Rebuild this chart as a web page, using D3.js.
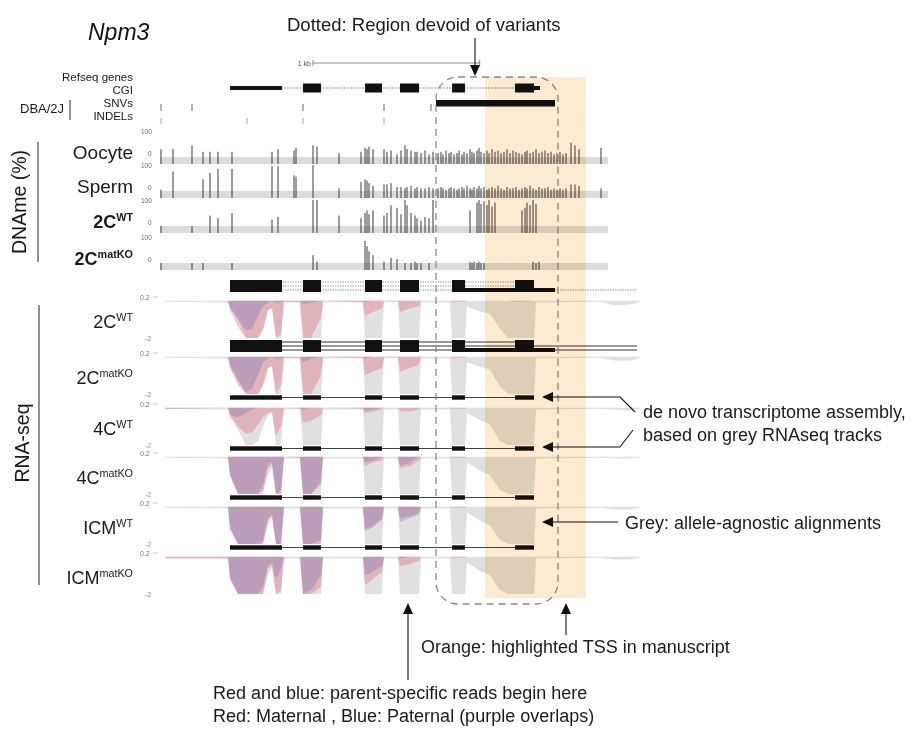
<!DOCTYPE html>
<html>
<head>
<meta charset="utf-8">
<script src="https://cdn.jsdelivr.net/npm/d3@7"></script>
<style>
  body { margin: 0; background: #fff; }
  svg { font-family: "Liberation Sans", Arial, Helvetica, sans-serif; }
</style>
</head>
<body>
<svg id="chart" width="914" height="730"></svg>
<script>
// genomic positions are bp from the left edge of the browser window
const regionBp = [0, 2880]
const bandEndBp = 2688

// gene annotation
const refseqExons = [[420, 732], [858, 966], [1230, 1332], [1440, 1554], [1752, 1830], [2130, 2280]]
const refseqCds = [732, 2244]
const cgi = [1656, 2370]
const snvPos = [6, 192, 858, 1344, 1626]
const indelPos = [6, 522, 858, 1344]
const noVariantRegion = [1656, 2388]
const tssRegion = [1950, 2556]
const scaleBar = [918, 1918]

// de novo assembled transcripts
const assemblyExons = [[420, 732], [858, 966], [1230, 1332], [1440, 1554], [1752, 1830], [2130, 2244]]
const assemblyLongExons = [[420, 732], [858, 966], [1230, 1332], [1440, 1554], [1752, 2370]]
const assemblyLongEnd = 2862

// DNA methylation (% per CpG, null = no coverage)
const dnameLabels = ["Oocyte", "Sperm", "2C", "2C"]
const dnameSups = ["", "", "WT", "matKO"]
const cpgPos = [6, 78, 192, 258, 300, 348, 432, 672, 708, 804, 816, 918, 942, 1074, 1206, 1230, 1242, 1254, 1278, 1344,
  1362, 1386, 1422, 1446, 1470, 1482, 1506, 1530, 1542, 1566, 1590, 1614, 1638,
  1668, 1686, 1698, 1716, 1734, 1746, 1764, 1782, 1794, 1812, 1824, 1842, 1860, 1872, 1884, 1902, 1914, 1926, 1944, 1962,
  1974, 1992, 2010, 2028, 2046, 2064, 2082, 2100, 2118, 2136, 2154, 2172, 2190, 2202, 2220, 2238, 2256, 2274, 2292, 2310,
  2328, 2346, 2364, 2382, 2400, 2418, 2436,
  2466, 2490, 2514, 2646]
const methOocyte = [30, 30, 45, 20, 20, 20, 20, 20, 30, 25, 35, 45, 40, 15, 20, 35, 30, 40, 30, 30, 20, 25, 10, 25, 45, 30, 25, 20, 20, 15, 25, 10, 20,
  15, 20, 10, 25, 15, 20, 10, 15, 25, 10, 20, 15, 30, 20, 15, 25, 35, 20, 15, 25, 15, 30, 20, 25, 15, 20, 30, 15, 25, 20,
  15, 10, 20, 25, 15, 20, 30, 15, 20, 25, 15, 20, 10, 15, 20, 10, 15,
  55, 45, 30, 35]
const methSperm = [5, 75, null, 45, 70, 85, 85, 95, 95, 60, 55, 100, null, 10, 35, 45, 40, 30, 20, 25, 25, 30, 15, 15, 10, 15, 20, 10, 15, 10, 10, 15, 10,
  10, 15, 10, 5, 10, 15, 10, 5, 10, 15, 10, 20, 10, 5, 15, 10, 20, 10, 15, 5, 10, 15, 10, 20, 10, 5, 15, 10, 10, 15,
  5, 10, 15, 10, 20, 10, 5, 15, 10, 10, 15, 5, 10, 5, 10, 5, 10,
  25, 25, 20, 10]
const meth2CWT = [0, null, 0, null, 40, 30, 50, 25, 35, null, null, 100, 100, 40, 30, 50, 60, 45, 60, 40, 50, 80, 70, 45, 100, 80, 50, 40, 30, 20, 35, 30, 100,
  null, null, null, null, null, null, null, null, null, null, null, null, 60, null, null, 90, 100, 85, 95, 80, 100, 75, 90,
  null, null, null, null, null, null, null, null, 60, 70, 90, 80, 100, 85, null, null, null, null, null, null, null, null, null, null,
  null, null, null, null]
const meth2CmatKO = [0, null, 0, 0, null, null, 0, null, null, null, null, 30, 5, null, null, 85, 65, 45, 30, 5, null, 20, 15, null, 0, null, 0, 5, 0, 0, null, 0, null,
  null, null, null, null, null, null, null, null, null, null, null, null, 5, 0, 5, 0, 5, 0, 0,
  null, null, null, null, null, null, null, null, null, null, null, null, null, null, null, null, 5, 0, 5,
  null, null, null, null, null, null, null, null, null,
  null, null, null, null]

// RNA-seq coverage (log scale, minus strand shown downward)
const rnaLabels = ["2C", "2C", "4C", "4C", "ICM", "ICM"]
const rnaSups = ["WT", "matKO", "WT", "matKO", "WT", "matKO"]
const rnaPos = [30, 408, 420, 468, 516, 552, 588, 618, 648, 672, 696, 726, 744,
  840, 858, 906, 966, 978,
  1218, 1230, 1278, 1332, 1344,
  1428, 1440, 1500, 1554, 1566,
  1740, 1752, 1830, 1842,
  1908, 1980, 2040, 2088, 2124, 2184, 2244, 2256,
  2640, 2730, 2820, 2880]

const grey2CWT = [-0.05, -0.1, -0.3, -1.0, -2.2, -2.2, -2.2, -1.5, -0.5, -0.4, -2.2, -2.2, -0.1,
  -0.05, -2.2, -2.2, -2.2, -0.1, -0.05, -2.2, -2.2, -2.2, -0.1, -0.05, -2.2, -2.2, -2.2, -0.1,
  -0.1, -2.2, -2.2, -0.3, -0.55, -0.7, -1.5, -2.2, -2.2, -2.2, -2.2, -0.1, -0.05, -0.25, -0.2, -0.05]
const red2CWT = [0, 0, -0.5, -1.4, -2.2, -2.2, -2.2, -1.6, -0.5, -0.4, -2.2, -1.8, -0.05,
  -0.1, -2.2, -2.2, -0.9, 0, -0.1, -0.8, -0.6, -0.4, 0, -0.05, -0.6, -0.4, -0.3, 0,
  0, -0.05, -0.05, 0, 0, 0, 0, 0, -0.05, -0.05, 0, 0, 0, 0, 0, 0]
const blue2CWT = [0, 0, -0.4, -1.0, -1.6, -1.5, -0.8, -0.3, -0.1, 0, -0.1, -0.1, 0,
  0, -0.2, -0.1, 0, 0, 0, -0.05, 0, 0, 0, 0, 0, 0, 0, 0,
  0, 0, 0, 0, 0, 0, 0, 0, 0, 0, 0, 0, 0, 0, 0, 0]

const grey2CmatKO = [-0.05, -0.1, -0.4, -1.2, -2.2, -2.2, -2.2, -1.6, -0.6, -0.5, -2.2, -2.2, -0.1,
  -0.05, -2.2, -2.2, -2.2, -0.1, -0.05, -2.2, -2.2, -2.2, -0.1, -0.05, -2.2, -2.2, -2.2, -0.1,
  -0.1, -2.2, -2.2, -0.3, -0.5, -0.7, -1.6, -2.2, -2.2, -2.2, -2.2, -0.1, -0.05, -0.2, -0.2, -0.05]
const red2CmatKO = [0, 0, -0.6, -1.5, -2.2, -2.2, -2.2, -1.5, -0.6, -0.5, -2.2, -1.5, -0.05,
  -0.1, -2.2, -2.2, -1.0, 0, -0.1, -1.0, -0.8, -0.6, 0, -0.05, -0.8, -0.6, -0.4, 0,
  0, -0.05, -0.05, 0, 0, 0, 0, 0, 0, 0, 0, 0, 0, 0, 0, 0]
const blue2CmatKO = [0, 0, -0.5, -1.3, -1.9, -1.7, -1.0, -0.3, -0.1, 0, -0.1, -0.1, 0,
  0, -0.3, -0.1, 0, 0, 0, -0.1, 0, 0, 0, 0, 0, 0, 0, 0,
  0, 0, 0, 0, 0, 0, 0, 0, 0, 0, 0, 0, 0, 0, 0, 0]

const grey4CWT = [-0.05, -0.1, -0.3, -1.2, -2.2, -2.2, -1.8, -1.0, -0.4, -0.3, -2.2, -2.2, -0.1,
  -0.05, -2.2, -2.2, -2.2, -0.1, -0.1, -2.2, -2.2, -2.2, -0.1, -0.1, -2.2, -2.2, -2.2, -0.1,
  -0.1, -2.2, -2.2, -0.3, -0.6, -0.9, -1.8, -2.2, -2.2, -2.2, -2.2, -0.1, -0.05, -0.1, -0.15, -0.05]
const red4CWT = [0, 0, -0.5, -1.0, -1.4, -1.3, -0.9, -0.5, -0.3, -0.2, -1.5, -1.0, 0,
  -0.05, -0.8, -0.7, -0.4, 0, -0.05, -0.3, -0.2, -0.1, 0, 0, -0.2, -0.2, -0.1, 0,
  0, -0.05, -0.05, 0, 0, 0, 0, 0, 0, 0, 0, 0, 0, 0, 0, 0]
const blue4CWT = [-0.08, 0, -0.4, -0.5, -0.3, -0.1, 0, 0, 0, 0, 0, 0, 0,
  0, -0.1, 0, 0, 0, 0, -0.15, -0.1, 0, 0, 0, 0, 0, 0, 0,
  0, 0, 0, 0, 0, 0, 0, 0, 0, 0, 0, 0, 0, 0, 0, 0]

const grey4CmatKO = [-0.05, -0.1, -1.0, -2.2, -2.2, -2.2, -2.2, -2.2, -1.0, -0.6, -2.2, -2.2, -0.1,
  -0.1, -2.2, -2.2, -2.2, -0.1, -0.1, -2.2, -2.2, -2.2, -0.1, -0.1, -2.2, -2.2, -2.2, -0.1,
  -0.1, -2.2, -2.2, -0.3, -0.7, -1.0, -1.8, -2.2, -2.2, -2.2, -2.2, -0.1, -0.05, -0.1, -0.1, -0.05]
const red4CmatKO = [0, 0, -1.0, -2.0, -2.2, -2.2, -2.2, -1.8, -0.6, -0.4, -2.2, -2.0, 0,
  -0.05, -2.2, -2.2, -1.5, 0, 0, -0.5, -0.3, -0.2, 0, 0, -0.6, -0.5, -0.2, 0,
  0, -0.05, -0.05, 0, 0, 0, 0, 0, 0, 0, 0, 0, 0, 0, 0, 0]
const blue4CmatKO = [0, 0, -1.0, -2.0, -2.2, -2.2, -2.0, -1.5, -0.4, -0.3, -2.2, -1.8, 0,
  0, -2.2, -2.2, -1.3, 0, 0, -0.3, -0.2, 0, 0, 0, -0.5, -0.3, 0, 0,
  0, 0, 0, 0, 0, 0, 0, 0, 0, 0, 0, 0, 0, 0, 0, 0]

const greyICMWT = [-0.05, -0.1, -1.0, -2.2, -2.2, -2.2, -2.2, -2.2, -1.0, -0.6, -2.2, -2.2, -0.1,
  -0.1, -2.2, -2.2, -2.2, -0.1, -0.1, -2.2, -2.2, -2.2, -0.1, -0.1, -2.2, -2.2, -2.2, -0.1,
  -0.1, -2.2, -2.2, -0.3, -0.7, -1.0, -1.8, -2.2, -2.2, -2.2, -2.2, -0.1, -0.05, -0.15, -0.15, -0.05]
const redICMWT = [0, 0, -1.2, -2.2, -2.2, -2.2, -2.2, -2.0, -0.7, -0.5, -2.2, -2.2, 0,
  0, -2.2, -2.2, -2.0, 0, 0, -1.2, -1.0, -0.6, 0, 0, -0.6, -0.5, -0.3, 0,
  0, -0.05, -0.05, 0, 0, 0, 0, 0, 0, 0, 0, 0, 0, 0, 0, 0]
const blueICMWT = [0, 0, -1.2, -2.2, -2.2, -2.2, -2.2, -1.8, -0.6, -0.4, -2.2, -2.0, 0,
  0, -2.2, -2.2, -1.8, 0, 0, -1.3, -1.1, -0.7, 0, 0, -0.8, -0.6, -0.4, 0,
  0, 0, 0, 0, 0, 0, 0, 0, 0, 0, 0, 0, 0, 0, 0, 0]

const greyICMmatKO = [-0.05, -0.1, -1.0, -2.2, -2.2, -2.2, -2.2, -2.2, -1.0, -0.6, -2.2, -2.2, -0.1,
  -0.1, -2.2, -2.2, -2.2, -0.1, -0.1, -2.2, -2.2, -2.2, -0.1, -0.1, -2.2, -2.2, -2.2, -0.1,
  -0.1, -2.2, -2.2, -0.3, -0.7, -1.0, -1.8, -2.2, -2.2, -2.2, -2.2, -0.1, -0.05, -0.15, -0.15, -0.05]
const redICMmatKO = [-0.1, -0.1, -1.2, -2.2, -2.2, -2.2, -2.2, -2.0, -0.6, -0.5, -2.2, -1.8, 0,
  0, -2.2, -2.2, -1.6, 0, 0, -1.5, -1.2, -0.8, 0, 0, -0.5, -0.4, -0.2, 0,
  0, -0.05, -0.05, 0, 0, 0, 0, 0, 0, 0, 0, 0, 0, 0, 0, 0]
const blueICMmatKO = [0, 0, -1.2, -2.2, -2.2, -2.2, -2.2, -1.6, -0.5, -0.3, -1.2, -0.6, 0,
  0, -2.0, -1.8, -1.0, 0, 0, -1.0, -0.8, -0.5, 0, 0, -0.1, 0, 0, 0,
  0, 0, 0, 0, 0, 0, 0, 0, 0, 0, 0, 0, 0, 0, 0, 0]

// tables built from the arrays above
const dnameTracks = [methOocyte, methSperm, meth2CWT, meth2CmatKO].map((vals, i) => ({
  label: dnameLabels[i], sup: dnameSups[i], bold: i >= 2,
  sites: cpgPos.map((p, j) => [p, vals[j]]).filter(d => d[1] !== null)
}))
const rnaTracks = [
  [grey2CWT, red2CWT, blue2CWT], [grey2CmatKO, red2CmatKO, blue2CmatKO],
  [grey4CWT, red4CWT, blue4CWT], [grey4CmatKO, red4CmatKO, blue4CmatKO],
  [greyICMWT, redICMWT, blueICMWT], [greyICMmatKO, redICMmatKO, blueICMmatKO]
].map((s, i) => ({
  label: rnaLabels[i], sup: rnaSups[i],
  series: s.map(vals => rnaPos.map((p, j) => [p, vals[j]]))
}))

// layout
const dnameBandTop = [157, 191, 226, 263]
const rnaTop = [297, 353, 404, 453, 503, 553]
const rnaHeight = 41
const labelRight = 133

const svg = d3.select("#chart")
svg.append("rect").attr("width", 914).attr("height", 730).attr("fill", "#fff")

const x = d3.scaleLinear().domain(regionBp).range([160, 640])

function label(g, xPos, yPos, main, sup, size, bold) {
  const t = g.append("text")
    .attr("x", xPos).attr("y", yPos)
    .attr("text-anchor", "end")
    .style("font-size", size + "px")
    .style("font-weight", bold ? "bold" : "normal")
    .attr("fill", "#1a1a1a")
  t.append("tspan").text(main)
  if (sup) t.append("tspan").attr("dy", -size * 0.38).style("font-size", (size * 0.6) + "px").text(sup)
}

function arrow(pts) {
  const n = pts.length
  const [tx, ty] = pts[n - 1]
  const [px, py] = pts[n - 2]
  const ang = Math.atan2(ty - py, tx - px)
  const len = 11, half = 5
  const bx = tx - len * Math.cos(ang), by = ty - len * Math.sin(ang)
  svg.append("path")
    .attr("d", d3.line()(pts.slice(0, n - 1).concat([[bx, by]])))
    .attr("fill", "none").attr("stroke", "#111").attr("stroke-width", 1.1)
  svg.append("path")
    .attr("d", d3.line()([[tx, ty], [bx + half * Math.sin(ang), by - half * Math.cos(ang)],
      [bx - half * Math.sin(ang), by + half * Math.cos(ang)]]) + "Z")
    .attr("fill", "#111")
}

// title and top annotation
svg.append("text").attr("x", 88).attr("y", 40)
  .style("font-size", "23px").style("font-style", "italic").attr("fill", "#111").text("Npm3")
svg.append("text").attr("x", 287).attr("y", 31)
  .style("font-size", "18.5px").attr("fill", "#1a1a1a").text("Dotted: Region devoid of variants")

// scale bar
const sb = svg.append("g").attr("stroke", "#888").attr("stroke-width", 1)
sb.append("line").attr("x1", x(scaleBar[0])).attr("x2", x(scaleBar[1])).attr("y1", 63).attr("y2", 63)
scaleBar.forEach(p => sb.append("line").attr("x1", x(p)).attr("x2", x(p)).attr("y1", 60).attr("y2", 66))
svg.append("text").attr("x", x(scaleBar[0]) - 2).attr("y", 65.5).attr("text-anchor", "end")
  .style("font-size", "7px").attr("fill", "#555").text("1 kb")

// annotation track labels
const ann = svg.append("g")
label(ann, labelRight, 81, "Refseq genes", "", 11.5, false)
label(ann, labelRight, 94, "CGI", "", 11.5, false)
label(ann, labelRight, 107, "SNVs", "", 11.5, false)
label(ann, labelRight, 120, "INDELs", "", 11.5, false)
ann.append("text").attr("x", 20).attr("y", 113).style("font-size", "13px").attr("fill", "#1a1a1a").text("DBA/2J")
ann.append("line").attr("x1", 70).attr("x2", 70).attr("y1", 100).attr("y2", 120).attr("stroke", "#222")

// refseq gene model
const geneY = 88
ann.append("line").attr("x1", x(refseqExons[0][0])).attr("x2", x(refseqExons[refseqExons.length - 1][1]))
  .attr("y1", geneY).attr("y2", geneY).attr("stroke", "#8f93b5").attr("stroke-width", 1.2).attr("stroke-dasharray", "2,1")
refseqExons.forEach(([s, e]) => {
  const cs = Math.max(s, refseqCds[0]), ce = Math.min(e, refseqCds[1])
  ann.append("rect").attr("x", x(s)).attr("width", x(e) - x(s)).attr("y", geneY - 2).attr("height", 4).attr("fill", "#111")
  if (ce > cs) ann.append("rect").attr("x", x(cs)).attr("width", x(ce) - x(cs)).attr("y", geneY - 4.5).attr("height", 9).attr("fill", "#111")
})
ann.append("rect").attr("x", x(cgi[0])).attr("width", x(cgi[1]) - x(cgi[0])).attr("y", 100).attr("height", 6.5).attr("fill", "#111")
ann.selectAll(".snv").data(snvPos).join("line").attr("class", "snv")
  .attr("x1", d => x(d)).attr("x2", d => x(d)).attr("y1", 104).attr("y2", 111).attr("stroke", "#666")
ann.selectAll(".indel").data(indelPos).join("line").attr("class", "indel")
  .attr("x1", d => x(d)).attr("x2", d => x(d)).attr("y1", 118).attr("y2", 124).attr("stroke", "#aaa")

// DNA methylation tracks
svg.append("text").attr("transform", "translate(26,202) rotate(-90)").attr("text-anchor", "middle")
  .style("font-size", "19.5px").attr("fill", "#1a1a1a").text("DNAme (%)")
svg.append("line").attr("x1", 38).attr("x2", 38).attr("y1", 142).attr("y2", 262).attr("stroke", "#222")

dnameTracks.forEach((t, i) => {
  const top = dnameBandTop[i]
  const y = d3.scaleLinear().domain([0, 100]).range([top, top - 26])
  const g = svg.append("g")
  g.append("rect").attr("x", x(0)).attr("width", x(bandEndBp) - x(0)).attr("y", top).attr("height", 7).attr("fill", "#dcdcdc")
  g.selectAll("line").data(t.sites).join("line")
    .attr("x1", d => x(d[0])).attr("x2", d => x(d[0]))
    .attr("y1", top + 7).attr("y2", d => y(d[1]))
    .attr("stroke", "#3a3a3a").attr("stroke-width", 1)
  g.append("text").attr("x", 141).attr("y", y(100) + 2.5).style("font-size", "6.5px").attr("fill", "#666").text("100")
  g.append("text").attr("x", 148).attr("y", y(0) - 1).style("font-size", "6.5px").attr("fill", "#666").text("0")
  label(g, labelRight, top + 2, t.label, t.sup, t.bold ? 18 : 19, t.bold)
})

// RNA-seq tracks
svg.append("text").attr("transform", "translate(29,443) rotate(-90)").attr("text-anchor", "middle")
  .style("font-size", "19.5px").attr("fill", "#1a1a1a").text("RNA-seq")
svg.append("line").attr("x1", 39).attr("x2", 39).attr("y1", 305).attr("y2", 585).attr("stroke", "#222")

const covFill = ["#e0e0e0", "rgb(224,120,130)", "rgb(125,118,190)"]
const covOpacity = [1, 0.42, 0.36]
rnaTracks.forEach((t, i) => {
  const top = rnaTop[i]
  const y = d3.scaleLinear().domain([0.2, -2]).range([top, top + rnaHeight]).clamp(true)
  const area = d3.area().x(d => x(d[0])).y0(y(0)).y1(d => y(d[1]))
  const g = svg.append("g")
  t.series.forEach((s, k) => {
    g.append("path").attr("d", area(s)).attr("fill", covFill[k]).attr("fill-opacity", covOpacity[k])
  })
  g.append("text").attr("x", 140).attr("y", y(0.2) + 2.5).style("font-size", "7px").attr("fill", "#777").text("0.2")
  g.append("text").attr("x", 145).attr("y", y(-2) + 2.5).style("font-size", "7px").attr("fill", "#999").text("-2")
  g.append("line").attr("x1", 153).attr("x2", 158).attr("y1", y(0.2)).attr("y2", y(0.2)).attr("stroke", "#ccc")
  label(g, labelRight, top + 31, t.label, t.sup, 18, false)
})

// stacked transcript sets (dotted introns above 2C WT, solid below it)
function transcriptSet(yBase, dotted) {
  const g = svg.append("g")
  const sets = [[assemblyExons, assemblyExons[assemblyExons.length - 1][1]],
    [assemblyExons, dotted ? assemblyExons[assemblyExons.length - 1][1] : assemblyLongEnd],
    [assemblyLongExons, assemblyLongEnd]]
  sets.forEach(([exons, end], k) => {
    const yy = yBase + k * 4
    g.append("line").attr("x1", x(exons[0][0])).attr("x2", x(end)).attr("y1", yy).attr("y2", yy)
      .attr("stroke", dotted ? "#9a9a9a" : "#333").attr("stroke-width", 1)
      .attr("stroke-dasharray", dotted ? "1.5,1" : null)
    exons.forEach(([s, e]) => g.append("rect").attr("x", x(s)).attr("width", x(e) - x(s))
      .attr("y", yy - 2).attr("height", 4).attr("fill", "#111"))
  })
}
transcriptSet(rnaTop[0] - 15, true)
transcriptSet(rnaTop[0] + rnaHeight + 4, false)

// single assembled transcript under the following tracks
rnaTop.slice(1, 5).forEach(top => {
  const yy = top + rnaHeight + 3.5
  const g = svg.append("g")
  g.append("line").attr("x1", x(assemblyExons[0][0])).attr("x2", x(assemblyExons[assemblyExons.length - 1][1]))
    .attr("y1", yy).attr("y2", yy).attr("stroke", "#444").attr("stroke-width", 1)
  assemblyExons.forEach(([s, e]) => g.append("rect").attr("x", x(s)).attr("width", x(e) - x(s))
    .attr("y", yy - 2.2).attr("height", 4.4).attr("fill", "#111"))
})

// dotted region devoid of variants
svg.append("rect")
  .attr("x", x(noVariantRegion[0])).attr("width", x(noVariantRegion[1]) - x(noVariantRegion[0]))
  .attr("y", 77).attr("height", 527).attr("rx", 22).attr("ry", 22)
  .attr("fill", "none").attr("stroke", "#8a8a8a").attr("stroke-width", 1.3).attr("stroke-dasharray", "7,5")

// highlighted TSS
svg.append("rect")
  .attr("x", x(tssRegion[0])).attr("width", x(tssRegion[1]) - x(tssRegion[0]))
  .attr("y", 77).attr("height", 521)
  .attr("fill", "#fdebd1").style("mix-blend-mode", "multiply")

// annotations
arrow([[x(1890), 38], [x(1890), 76]])
arrow([[635, 412], [620, 397], [542, 397]])
arrow([[633, 430], [620, 447], [542, 447]])
arrow([[618, 522], [542, 522]])
arrow([[x(1488), 680], [x(1488), 603]])
arrow([[x(2436), 635], [x(2436), 603]])

const note = (xx, yy, txt) => svg.append("text").attr("x", xx).attr("y", yy)
  .style("font-size", "18px").attr("fill", "#1a1a1a").text(txt)
note(643, 418, "de novo transcriptome assembly,")
note(643, 441, "based on grey RNAseq tracks")
note(625, 529, "Grey: allele-agnostic alignments")
note(421, 653, "Orange: highlighted TSS in manuscript")
note(213, 699, "Red and blue: parent-specific reads begin here")
note(213, 722, "Red: Maternal , Blue: Paternal (purple overlaps)")
</script>
</body>
</html>
